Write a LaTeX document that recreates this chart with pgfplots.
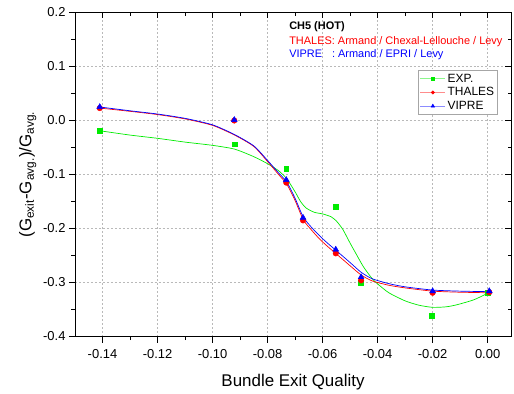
\documentclass[border=0pt]{standalone}
\usepackage{pgfplots}
\pgfplotsset{compat=1.18}
\usepackage{fontspec}
\setmainfont{Liberation Sans}
\definecolor{exg}{RGB}{0,235,0}
\definecolor{thr}{RGB}{255,0,0}
\definecolor{vib}{RGB}{0,0,255}
\begin{document}
\begin{tikzpicture}
\pgfplotsset{
  common/.style={
    scale only axis, width=436bp, height=324bp,
    xmin=-0.15, xmax=0.0085, ymin=-0.4, ymax=0.2,
    xtick={-0.14,-0.12,-0.10,-0.08,-0.06,-0.04,-0.02,0},
    ytick={-0.4,-0.3,-0.2,-0.1,0,0.1,0.2},
    minor x tick num=1, minor y tick num=1,
    axis line style={line width=1pt, black},
    tick style={black, line width=0.8pt},
    major tick length=6bp, minor tick length=3.5bp,
  }
}
\begin{axis}[common,
  xtick pos=left, ytick pos=left, tick align=outside,
  grid=major,
  major grid style={dash pattern=on 2pt off 2pt, gray!55, line width=0.4pt},
  tick label style={font=\fontsize{13}{15}\selectfont},
  /pgf/number format/assume math mode=true,
  xticklabel style={yshift=-3bp, /pgf/number format/.cd, fixed, fixed zerofill, precision=2},
  yticklabel style={/pgf/number format/.cd, fixed, fixed zerofill, precision=1},
  xlabel={Bundle Exit Quality},
  ylabel={(G\textsubscript{exit}-G\textsubscript{avg.})/G\textsubscript{avg.}},
  label style={font=\fontsize{17}{20}\selectfont},
  xlabel style={yshift=-9bp},
  legend cell align=left,
  legend style={at={(rel axis cs:0.970,0.8225)}, anchor=north east,
    font=\fontsize{12}{14}\selectfont, draw=gray!70, line width=0.6pt,
    inner sep=1.5pt, row sep=0pt},
  legend image code/.code={
    \draw[mark repeat=2,mark phase=2] plot coordinates {(0cm,0cm) (0.44cm,0cm) (0.88cm,0cm)};},
]
\coordinate (bl) at (rel axis cs:0,0);
\coordinate (tr) at (rel axis cs:1,1);
\addlegendimage{color=exg!45, line width=0.6pt, mark=square*, mark size=1.4bp, mark options={fill=exg, draw=exg}}
\addlegendentry{EXP.}
\addlegendimage{color=thr!45, line width=0.6pt, mark=*, mark size=1.6bp, mark options={fill=thr, draw=thr}}
\addlegendentry{THALES}
\addlegendimage{color=vib!45, line width=0.6pt, mark=triangle*, mark size=2bp, mark options={fill=vib, draw=vib}}
\addlegendentry{VIPRE}
% curves
\addplot[exg, line width=0.7pt, smooth, tension=0.4, forget plot] coordinates {
(-0.141,-0.019) (-0.130,-0.027) (-0.120,-0.033) (-0.110,-0.040) (-0.100,-0.046)
(-0.092,-0.053) (-0.085,-0.067) (-0.080,-0.080) (-0.076,-0.093) (-0.073,-0.108)
(-0.070,-0.132) (-0.068,-0.150) (-0.066,-0.162) (-0.063,-0.170) (-0.060,-0.173)
(-0.057,-0.178) (-0.055,-0.186) (-0.0526,-0.202) (-0.050,-0.227) (-0.0477,-0.248)
(-0.045,-0.272) (-0.0416,-0.295) (-0.038,-0.311) (-0.0356,-0.320) (-0.030,-0.334)
(-0.025,-0.342) (-0.020,-0.346) (-0.015,-0.345) (-0.011,-0.341) (-0.005,-0.332)
(0.0,-0.320)};
\addplot[thr, line width=0.7pt, smooth, tension=0.4, forget plot] coordinates {
(-0.141,0.023) (-0.130,0.017) (-0.120,0.011) (-0.110,0.003) (-0.100,-0.009)
(-0.092,-0.027) (-0.085,-0.048) (-0.080,-0.076) (-0.076,-0.100) (-0.073,-0.118)
(-0.070,-0.148) (-0.067,-0.184) (-0.064,-0.203) (-0.061,-0.220) (-0.058,-0.234)
(-0.055,-0.247) (-0.050,-0.269) (-0.046,-0.286) (-0.042,-0.297) (-0.036,-0.305)
(-0.030,-0.310) (-0.020,-0.316) (-0.010,-0.318) (0.0006,-0.319)};
\addplot[vib, line width=0.7pt, smooth, tension=0.4, forget plot] coordinates {
(-0.141,0.025) (-0.130,0.018) (-0.120,0.012) (-0.110,0.004) (-0.100,-0.008)
(-0.092,-0.026) (-0.085,-0.047) (-0.080,-0.074) (-0.076,-0.097) (-0.073,-0.114)
(-0.070,-0.144) (-0.067,-0.179) (-0.064,-0.198) (-0.061,-0.214) (-0.058,-0.228)
(-0.055,-0.241) (-0.050,-0.263) (-0.046,-0.281) (-0.042,-0.293) (-0.036,-0.302)
(-0.030,-0.308) (-0.020,-0.314) (-0.010,-0.316) (0.0006,-0.317)};
% points
\addplot[only marks, mark=square*, mark size=2.4bp, exg, forget plot] coordinates {
(-0.141,-0.019) (-0.092,-0.044) (-0.0732,-0.090) (-0.0552,-0.159)
(-0.0461,-0.300) (-0.0203,-0.362) (0.0,-0.319)};
\addplot[only marks, mark=*, mark size=2.8bp, thr, forget plot] coordinates {
(-0.141,0.023) (-0.0921,0.000) (-0.0732,-0.115) (-0.0671,-0.185)
(-0.0552,-0.246) (-0.046,-0.296) (-0.020,-0.319) (0.0006,-0.318)};
\addplot[only marks, mark=triangle*, mark size=3.4bp, vib, forget plot] coordinates {
(-0.141,0.025) (-0.0921,0.001) (-0.0732,-0.110) (-0.0671,-0.180)
(-0.0552,-0.239) (-0.046,-0.290) (-0.020,-0.316) (0.0006,-0.316)};
% annotations
\node[anchor=west, inner sep=0pt, font=\bfseries\fontsize{11}{13}\selectfont]
  at (rel axis cs:0.491,0.955) {CH5 (HOT)};
\node[anchor=west, inner sep=0pt, text=thr, font=\fontsize{11}{13}\selectfont]
  at (rel axis cs:0.491,0.909) {THALES: Armand / Chexal-Lellouche / Levy};
\node[anchor=west, inner sep=0pt, text=vib, font=\fontsize{11}{13}\selectfont]
  at (rel axis cs:0.491,0.869) {VIPRE\hspace{0.9em}: Armand / EPRI / Levy};
\end{axis}
\begin{axis}[common,
  xtick pos=right, ytick pos=right, tick align=inside,
  xticklabels={}, yticklabels={}]
\end{axis}
\pgfresetboundingbox
\path[use as bounding box] ([xshift=-75bp,yshift=-57.5bp]bl) rectangle ([xshift=3bp,yshift=12.5bp]tr);
\end{tikzpicture}
\end{document}
